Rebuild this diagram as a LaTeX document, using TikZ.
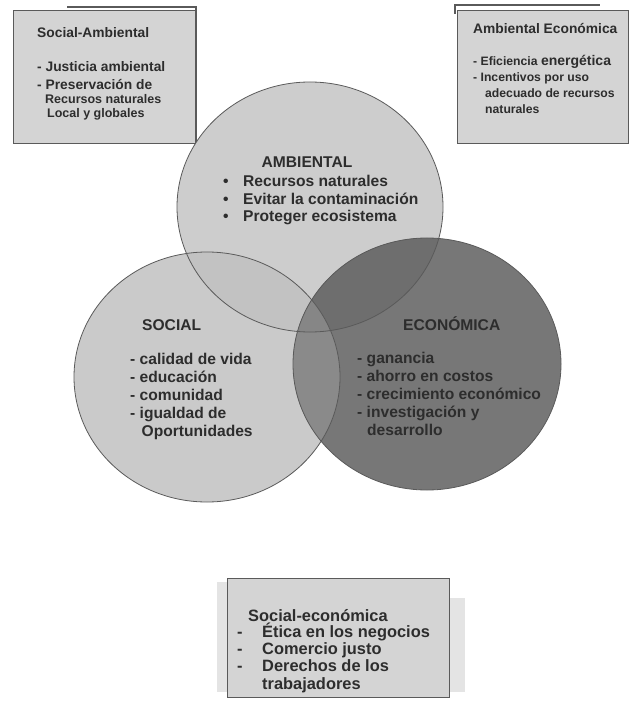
\documentclass[tikz,border=0pt]{standalone}
\usepackage{fontspec}
\setmainfont{Liberation Sans}
\usetikzlibrary{positioning}
\definecolor{PanelColor}{RGB}{212,212,212}
\definecolor{ShadeColor}{RGB}{228,228,228}
\definecolor{EdgeColor} {RGB}{90,90,90}
\definecolor{TextColor} {RGB}{45,45,45}
\definecolor{AmbColor}  {RGB}{205,205,205}
\definecolor{SocColor}  {RGB}{202,202,202}
\definecolor{EcoColor}  {RGB}{119,119,119}
\definecolor{AmbSocColor}{RGB}{194,194,194}
\definecolor{AmbEcoColor}{RGB}{110,110,110}
\definecolor{SocEcoColor}{RGB}{138,138,138}
\definecolor{AllColor}  {RGB}{134,134,134}
\newcommand\circfont{\fontsize{15.6}{17.9}\selectfont\bfseries}
\newcommand\boxfont{\fontsize{13.8}{18}\selectfont\bfseries}

\begin{document}
\begin{tikzpicture}[x=1pt,y=-1pt,
  every node/.style={inner sep=0pt,align=left,anchor=base west,text=TextColor},
  panel/.style={fill=PanelColor,draw=EdgeColor,line width=0.7pt},
  rim/.style={draw=EdgeColor,line width=1.6pt},
  ring/.style={draw=EdgeColor,line width=0.8pt},
  ambR/.style={x radius=133pt,y radius=125pt},
  socR/.style={x radius=133pt,y radius=125pt},
  ecoR/.style={x radius=134pt,y radius=126pt}]
\useasboundingbox (0,0) rectangle (630,708);
% cuadros de las intersecciones
\fill[ShadeColor] (217,582) rectangle (227,692);
\fill[ShadeColor] (449,598) rectangle (465,692);
\draw[panel] (13,10) rectangle (196,143);
\draw[panel] (457,10) rectangle (628,143);
\draw[panel] (227,578) rectangle (449,697);
\draw[rim] (67,7) -- (196,7) -- (196,143);
\draw[rim] (455,14) -- (455,5) -- (600,5);
% circulos
\coordinate (ambC) at (310,207);
\coordinate (socC) at (207,377);
\coordinate (ecoC) at (427,364);
\fill[AmbColor] (ambC) ellipse [ambR];
\fill[SocColor] (socC) ellipse [socR];
\fill[EcoColor] (ecoC) ellipse [ecoR];
\begin{scope}
  \clip (ambC) ellipse [ambR];
  \fill[AmbSocColor] (socC) ellipse [socR];
  \fill[AmbEcoColor] (ecoC) ellipse [ecoR];
\end{scope}
\begin{scope}
  \clip (socC) ellipse [socR];
  \fill[SocEcoColor] (ecoC) ellipse [ecoR];
\end{scope}
\begin{scope}
  \clip (ambC) ellipse [ambR];
  \clip (socC) ellipse [socR];
  \fill[AllColor] (ecoC) ellipse [ecoR];
\end{scope}
\draw[ring] (ambC) ellipse [ambR];
\draw[ring] (socC) ellipse [socR];
\draw[ring] (ecoC) ellipse [ecoR];
% textos (listas: base = ultima linea)
\node[font=\circfont,anchor=base] (ambTitle) at (307,168) {AMBIENTAL};
\node[font=\circfont] (ambList) at (223,222) {\makebox[20pt][l]{\textbullet}Recursos naturales\\
  \makebox[20pt][l]{\textbullet}Evitar la contaminación\\
  \makebox[20pt][l]{\textbullet}Proteger ecosistema};
\node[font=\circfont] (socTitle) at (142,330) {SOCIAL};
\node[font=\circfont] (socList) at (130,436.5) {- calidad de vida\\- educación\\- comunidad\\
  - igualdad de\\\hspace*{11.5pt}Oportunidades};
\node[font=\circfont] (ecoTitle) at (403,330) {ECONÓMICA};
\node[font=\circfont] (ecoList) at (357,435.5) {- ganancia\\- ahorro en costos\\
  - crecimiento económico\\- investigación y\\\hspace*{10pt}desarrollo};
\node[font=\boxfont] (saTitle) at (37,38) {Social-Ambiental};
\node[font=\boxfont] (saList) at (37,90) {- Justicia ambiental\\- Preservación de};
\node[font=\fontsize{12.5}{14}\selectfont\bfseries] (saMore) at (45,118) {Recursos naturales\\
  \hspace*{2pt}Local y globales};
\node[font=\boxfont] (aeTitle) at (473,34) {Ambiental Económica};
\node[font=\fontsize{12.2}{16}\selectfont\bfseries] (aeList) at (473,114)
  {- Eficiencia {\fontsize{14}{16}\selectfont energética}\\- Incentivos por uso\\
  \hspace*{12pt}adecuado de recursos\\\hspace*{12pt}naturales};
\node[font=\fontsize{16.4}{17.3}\selectfont\bfseries] (seTitle) at (248,621) {Social-económica};
\node[font=\fontsize{16.4}{17.3}\selectfont\bfseries] (seList) at (237,689)
  {\makebox[25pt][l]{-}Ética en los negocios\\\makebox[25pt][l]{-}Comercio justo\\
  \makebox[25pt][l]{-}Derechos de los\\\hspace*{25pt}trabajadores};
\end{tikzpicture}
\end{document}
